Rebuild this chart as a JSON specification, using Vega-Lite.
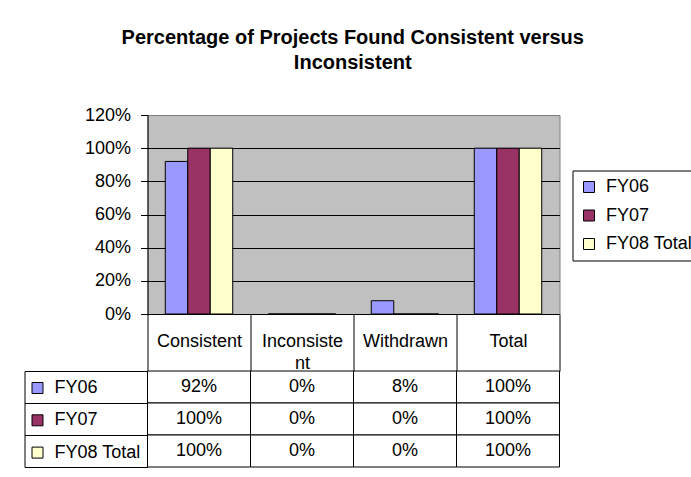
{
  "$schema": "https://vega.github.io/schema/vega-lite/v6.json",
  "padding": {"left": 23.5, "top": 27, "right": 0, "bottom": 0},
  "background": "white",
  "title": {
    "text": ["Percentage of Projects Found Consistent versus", "Inconsistent"],
    "fontSize": 20,
    "fontWeight": "bold",
    "lineHeight": 25,
    "anchor": "middle",
    "color": "black",
    "offset": 33,
    "dx": -10
  },
  "spacing": 57,
  "bounds": "flush",
  "resolve": {"legend": {"color": "independent"}},
  "config": {"font": "Liberation Sans", "view": {"stroke": null}},
  "datasets": {
    "d": [
      {"category": "Consistent", "series": "FY06", "value": 0.92},
      {"category": "Consistent", "series": "FY07", "value": 1.0},
      {"category": "Consistent", "series": "FY08 Total", "value": 1.0},
      {"category": "Inconsistent", "series": "FY06", "value": 0},
      {"category": "Inconsistent", "series": "FY07", "value": 0},
      {"category": "Inconsistent", "series": "FY08 Total", "value": 0},
      {"category": "Withdrawn", "series": "FY06", "value": 0.08},
      {"category": "Withdrawn", "series": "FY07", "value": 0},
      {"category": "Withdrawn", "series": "FY08 Total", "value": 0},
      {"category": "Total", "series": "FY06", "value": 1.0},
      {"category": "Total", "series": "FY07", "value": 1.0},
      {"category": "Total", "series": "FY08 Total", "value": 1.0}
    ]
  },
  "vconcat": [
    {
      "width": 412,
      "height": 199,
      "data": {"name": "d"},
      "view": {"fill": "#c0c0c0", "stroke": "#808080"},
      "mark": {"type": "bar", "stroke": "black", "strokeWidth": 1},
      "encoding": {
        "x": {
          "field": "category", "type": "nominal",
          "sort": ["Consistent", "Inconsistent", "Withdrawn", "Total"],
          "scale": {"paddingInner": 0, "paddingOuter": 0},
          "axis": {
            "title": null, "labelAngle": 0, "labelFontSize": 18, "labelColor": "black",
            "labelBaseline": "middle", "labelPadding": -30, "labelLineHeight": 22,
            "labelExpr": "datum.value == 'Inconsistent' ? ['Inconsiste', 'nt'] : datum.value",
            "tickBand": "extent", "tickSize": 57, "tickColor": "black",
            "domainColor": "black", "grid": false, "labelOverlap": false
          }
        },
        "xOffset": {
          "field": "series", "type": "nominal",
          "sort": ["FY06", "FY07", "FY08 Total"],
          "scale": {"paddingInner": 0, "paddingOuter": 0.79}
        },
        "y": {
          "field": "value", "type": "quantitative",
          "scale": {"domain": [0, 1.2], "nice": false},
          "axis": {
            "title": null, "values": [0, 0.2, 0.4, 0.6, 0.8, 1, 1.2], "format": ".0%",
            "labelFontSize": 18, "labelColor": "black", "labelPadding": 10,
            "tickSize": 7, "tickColor": "black", "domainColor": "black",
            "gridColor": {"condition": {"test": "datum.value > 1.1", "value": "#808080"}, "value": "black"},
            "gridOpacity": 1
          }
        },
        "color": {
          "field": "series", "type": "nominal",
          "scale": {"domain": ["FY06", "FY07", "FY08 Total"], "range": ["#9999ff", "#993366", "#ffffcc"]},
          "legend": {
            "orient": "none", "legendX": 425, "legendY": 55.5, "title": null,
            "fillColor": "white", "strokeColor": "black", "padding": 7.5, "rowPadding": 10.5,
            "symbolType": "square", "symbolSize": 121, "symbolStrokeColor": "black", "symbolStrokeWidth": 1,
            "labelFontSize": 18, "labelColor": "black", "labelOffset": 8, "labelLimit": 200
          }
        }
      }
    },
    {
      "width": 412,
      "height": 96,
      "data": {"name": "d"},
      "encoding": {
        "x": {
          "field": "category", "type": "nominal",
          "sort": ["Consistent", "Inconsistent", "Withdrawn", "Total"],
          "scale": {"paddingInner": 0, "paddingOuter": 0},
          "axis": null
        },
        "y": {
          "field": "series", "type": "nominal",
          "sort": ["FY06", "FY07", "FY08 Total"],
          "scale": {"paddingInner": 0, "paddingOuter": 0},
          "axis": {
            "title": null, "labels": false, "offset": 123, "domainColor": "black",
            "tickBand": "extent", "tickSize": -123, "tickColor": "black", "grid": false
          }
        }
      },
      "layer": [
        {"mark": {"type": "rect", "fill": "white", "stroke": "black", "strokeWidth": 1}},
        {
          "mark": {"type": "text", "fontSize": 18, "color": "black"},
          "encoding": {"text": {"field": "value", "type": "quantitative", "format": ".0%"}}
        },
        {
          "mark": {"type": "point", "shape": "square", "filled": true, "opacity": 0},
          "encoding": {
            "color": {
              "field": "series", "type": "nominal",
              "scale": {"domain": ["FY06", "FY07", "FY08 Total"], "range": ["#9999ff", "#993366", "#ffffcc"]},
              "legend": {
                "orient": "none", "legendX": -119, "legendY": 8, "title": null,
                "padding": 0, "rowPadding": 14.3,
                "symbolType": "square", "symbolSize": 121, "symbolStrokeColor": "black", "symbolStrokeWidth": 1,
                "symbolOpacity": 1,
                "labelFontSize": 18, "labelColor": "black", "labelOffset": 8, "labelLimit": 200
              }
            }
          }
        }
      ]
    }
  ]
}
